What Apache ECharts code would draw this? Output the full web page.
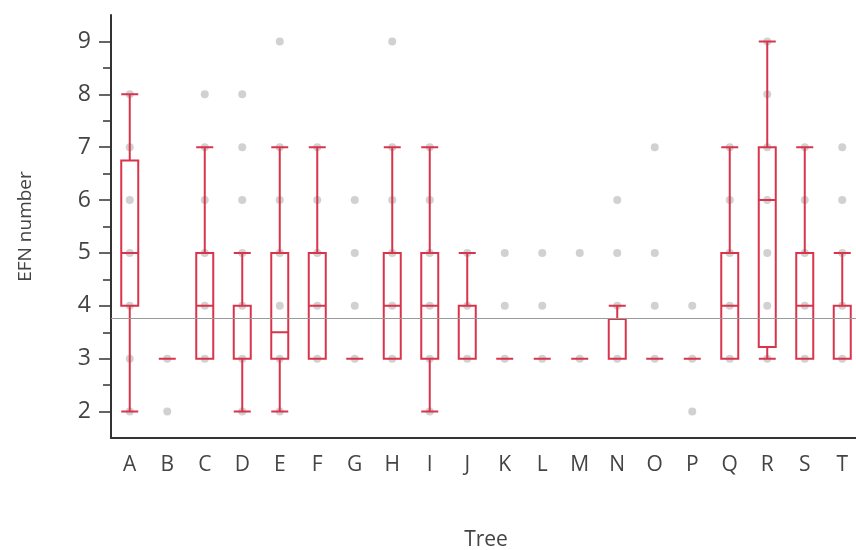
<!DOCTYPE html>
<html>
<head>
<meta charset="utf-8">
<script src="https://cdn.jsdelivr.net/npm/echarts@6/dist/echarts.min.js"></script>
<style>
html,body{margin:0;padding:0;background:#fff;}
#chart{width:856px;height:550px;}
</style>
</head>
<body>
<div id="chart"></div>
<script>
var trees=['A','B','C','D','E','F','G','H','I','J','K','L','M','N','O','P','Q','R','S','T'];
// [min, Q1, median, Q3, max]
var boxStats=[
    [2,4,5,6.75,8],
    [3,3,3,3,3],
    [3,3,4,5,7],
    [2,3,4,4,5],
    [2,3,3.5,5,7],
    [3,3,4,5,7],
    [3,3,3,3,3],
    [3,3,4,5,7],
    [2,3,4,5,7],
    [3,3,4,4,5],
    [3,3,3,3,3],
    [3,3,3,3,3],
    [3,3,3,3,3],
    [3,3,3,3.75,4],
    [3,3,3,3,3],
    [3,3,3,3,3],
    [3,3,4,5,7],
    [3,3.22,6,7,9],
    [3,3,4,5,7],
    [3,3,3,4,5]
];
// observed values per tree (gray dots)
var points=[
    [2,3,4,5,6,7,8],
    [2,3],
    [3,4,5,6,7,8],
    [2,3,4,5,6,7,8],
    [2,3,4,5,6,7,9],
    [3,4,5,6,7],
    [3,4,5,6],
    [3,4,5,6,7,9],
    [2,3,4,5,6,7],
    [3,4,5],
    [3,4,5],
    [3,4,5],
    [3,5],
    [3,4,5,6],
    [3,4,5,7],
    [2,3,4],
    [3,4,5,6,7],
    [3,4,5,6,7,8,9],
    [3,4,5,6,7],
    [3,4,5,6,7]
];
var meanLevel=3.77;
var yTicks=[2,3,4,5,6,7,8,9];
var yMinorTicks=[2.5,3.5,4.5,5.5,6.5,7.5,8.5];

var dots=[];
points.forEach(function(vals,i){
    vals.forEach(function(v){ dots.push([i,v]); });
});

var red='#d8344c';
var axisColor='#333';
var font='"Open Sans", "DejaVu Sans", sans-serif';

var chart=echarts.init(document.getElementById('chart'));
var option={
    animation:false,
    grid:{left:111,right:-5,top:15,bottom:112,outerBoundsMode:'none',containLabel:false},
    xAxis:{
        type:'category',
        data:trees,
        name:'Tree',
        nameLocation:'middle',
        nameGap:92,
        nameTextStyle:{fontSize:21,color:'#444',fontFamily:font},
        axisLine:{lineStyle:{color:axisColor,width:2}},
        axisTick:{length:13,lineStyle:{color:axisColor,width:2}},
        axisLabel:{fontSize:21,color:'#444',fontFamily:font,margin:17},
        splitLine:{show:false}
    },
    yAxis:[{
        type:'value',
        min:1.5,
        max:9.5,
        name:'EFN number',
        nameLocation:'middle',
        nameGap:76,
        nameTextStyle:{fontSize:19,color:'#444',fontFamily:font},
        axisLine:{show:true,lineStyle:{color:axisColor,width:2}},
        axisTick:{show:true,length:12,customValues:yTicks,lineStyle:{color:axisColor,width:1.5}},
        axisLabel:{fontSize:23,color:'#444',fontFamily:font,margin:20,customValues:yTicks},
        splitLine:{show:false}
    },{
        type:'value',
        min:1.5,
        max:9.5,
        position:'left',
        axisLine:{show:false},
        axisTick:{show:true,length:8,customValues:yMinorTicks,lineStyle:{color:axisColor,width:1.5}},
        axisLabel:{show:false},
        splitLine:{show:false}
    }],
    series:[{
        type:'scatter',
        data:dots,
        symbolSize:8,
        itemStyle:{color:'#c6c6c6'},
        z:1,
        markLine:{
            silent:true,
            symbol:['none','none'],
            label:{show:false},
            lineStyle:{color:'#9a9a9a',width:1,type:'solid'},
            data:[{yAxis:meanLevel}]
        }
    },{
        type:'boxplot',
        data:boxStats,
        boxWidth:[17,17],
        itemStyle:{color:'rgba(0,0,0,0)',borderColor:red,borderWidth:2},
        z:3
    }]
};
chart.setOption(option);
</script>
</body>
</html>
